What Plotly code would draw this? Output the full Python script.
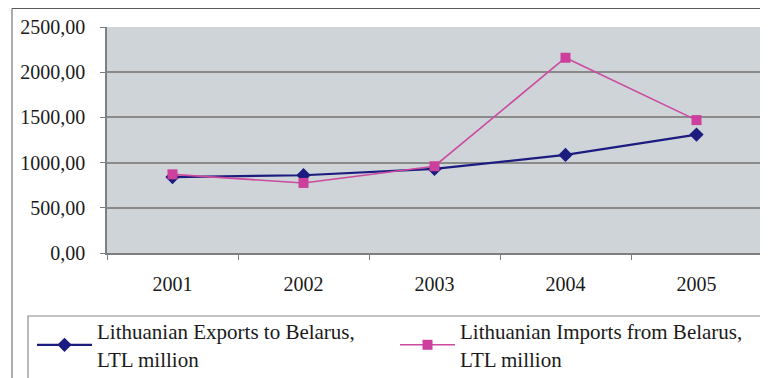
import plotly.graph_objects as go

years = ["2001", "2002", "2003", "2004", "2005"]
exports = [840, 860, 930, 1085, 1310]
imports = [870, 775, 960, 2160, 1470]
y_ticks = [0, 500, 1000, 1500, 2000, 2500]
y_tick_labels = ["0,00", "500,00", "1000,00", "1500,00", "2000,00", "2500,00"]

font_family = "Liberation Serif"

# page body has an 8px margin: work in screen pixels and convert
OFF = 8
W, H = 760, 370
L, T = 107 - OFF, 27 - OFF
R = W - (762 - OFF)
B = H - (253 - OFF)
pw = W - L - R
ph = H - T - B

def px_x(px):
    return (px - OFF - L) / pw

def px_y(py):
    return (H - B - (py - OFF)) / ph

def cx(px):
    return (px - OFF) / W

def cy(py):
    return 1 - (py - OFF) / H

fig = go.Figure()
fig.add_trace(go.Scatter(
    x=years, y=exports, mode="lines+markers",
    name="Lithuanian Exports to Belarus,<br>LTL million",
    line=dict(color="#1c1c80", width=2.2),
    marker=dict(symbol="diamond", size=11, color="#1c1c80"),
    legend="legend",
))
fig.add_trace(go.Scatter(
    x=years, y=imports, mode="lines+markers",
    name="Lithuanian Imports from Belarus,<br>LTL million",
    line=dict(color="#cc4aa0", width=1.6),
    marker=dict(symbol="square", size=10, color="#cc3f9c"),
    legend="legend2",
))

legend_common = dict(
    xref="container", yref="container",
    xanchor="left", yanchor="top",
    font=dict(family=font_family, size=21, color="#1a1a1a"),
    bgcolor="rgba(0,0,0,0)",
    itemwidth=55,
)

fig.update_layout(
    width=W, height=H,
    margin=dict(l=L, r=R, t=T, b=B, autoexpand=False),
    paper_bgcolor="white",
    plot_bgcolor="#ced4d7",
    font=dict(family=font_family, size=20, color="#1a1a1a"),
    showlegend=True,
    legend=dict(x=cx(32), y=cy(311), **legend_common),
    legend2=dict(x=cx(395), y=cy(311), **legend_common),
    xaxis=dict(
        type="category",
        range=[-0.5, len(years) - 0.5],
        showgrid=False,
        showline=True, linecolor="#7f7f7f", linewidth=1.5,
        ticks="outside", ticklen=5, tickcolor="#7f7f7f",
        tickson="boundaries",
        tickfont=dict(family=font_family, size=20),
        ticklabelstandoff=12,
        zeroline=False,
    ),
    yaxis=dict(
        range=[0, 2500],
        tickvals=y_ticks, ticktext=y_tick_labels,
        showgrid=True, gridcolor="#8a8a8a", gridwidth=1.5,
        showline=True, linecolor="#7f7f7f", linewidth=1.5,
        ticks="outside", ticklen=5, tickcolor="#7f7f7f",
        tickfont=dict(family=font_family, size=20),
        zeroline=False,
        ticklabelstandoff=11,
    ),
    shapes=[
        dict(type="rect", xref="paper", yref="paper",
             x0=px_x(12), x1=px_x(820), y0=px_y(8.5), y1=px_y(420),
             line=dict(color="#5a5a5a", width=1), fillcolor="rgba(0,0,0,0)", layer="below"),
        dict(type="rect", xref="paper", yref="paper",
             x0=px_x(28), x1=px_x(820), y0=px_y(316), y1=px_y(420),
             line=dict(color="#8a8a8a", width=1.2), fillcolor="rgba(0,0,0,0)", layer="below"),
        dict(type="line", xref="paper", yref="paper",
             x0=1, x1=1, y0=0, y1=1,
             line=dict(color="#8a8a8a", width=1.5)),
    ],
)

fig.write_html("out.html")
